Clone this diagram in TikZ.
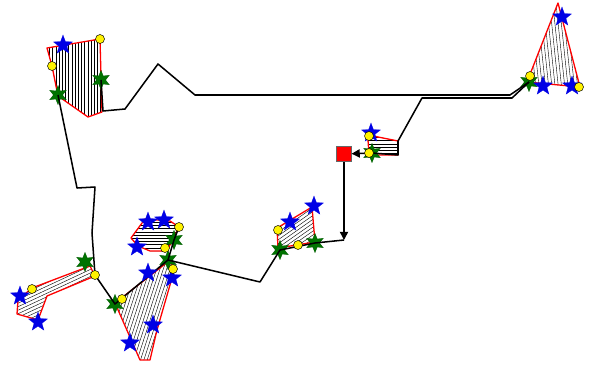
\documentclass[tikz,border=0pt]{standalone}
\usetikzlibrary{shapes.geometric,arrows.meta}

\tikzset{
  route/.style={draw=black, line width=1.3pt, line join=round},
  outline/.style={draw=red, line width=1.1pt, line join=round},
  hatch/.style={draw=black, line width=0.35pt},
  bstar/.style={star, star points=5, star point ratio=2.4, fill=blue!90!black, draw=blue!90!black, line width=0.2pt, minimum size=0.6cm, inner sep=0pt},
  gstar/.style={star, star points=6, star point ratio=2.1, fill=green!45!black, draw=green!35!black, line width=0.2pt, minimum size=0.58cm, inner sep=0pt},
  ydot/.style={circle, fill=yellow, draw=black, line width=0.4pt, minimum size=0.27cm, inner sep=0pt},
  startsq/.style={rectangle, fill=red, draw=black!60, line width=0.4pt, minimum size=0.44cm, inner sep=0pt},
  tip/.style={-{Triangle[length=7pt,width=7pt]}}
}

% hatched region with red border: #1 corner list, #2 centre, #3 hatch angle
\newcommand{\hatcharea}[3]{%
  \begin{scope}
    \clip #1 -- cycle;
    \begin{scope}[shift={#2}, rotate=#3]
      \foreach \k in {-32,...,32} \draw[hatch] (\k*3.2,-95) -- (\k*3.2,95);
    \end{scope}
  \end{scope}
  \draw[outline] #1 -- cycle;}

\begin{document}
\begin{tikzpicture}[x=0.03cm, y=-0.03cm]
\useasboundingbox (0,0) rectangle (589,366);

% hatched regions
\hatcharea{(47,48) -- (100,39) -- (102,112) -- (88,117) -- (58,96) -- (52,66)}{(75,80)}{0}
\hatcharea{(558,3) -- (580,87) -- (527,82)}{(555,55)}{6}
\hatcharea{(373,136) -- (398,141) -- (398,155) -- (369,155) -- (368,140)}{(385,147)}{90}
\hatcharea{(277,228) -- (312,207) -- (315,242) -- (278,248)}{(295,228)}{-55}
\hatcharea{(131,238) -- (145,219) -- (170,221) -- (179,227) -- (167,251) -- (150,251) -- (138,246)}{(155,235)}{90}
\hatcharea{(115,303) -- (169,261) -- (174,268) -- (172,278) -- (157,330) -- (150,360) -- (140,360)}{(150,310)}{-18}
\hatcharea{(18,300) -- (32,288) -- (90,266) -- (95,276) -- (47,296) -- (38,320) -- (17,314)}{(55,293)}{-65}

% bend points of the route
\coordinate (a1) at (103,111);
\coordinate (a2) at (125,109);
\coordinate (a3) at (158,64);
\coordinate (a4) at (195,95);
\coordinate (a5) at (510,95);
\coordinate (b1) at (512,98);
\coordinate (b2) at (422,98);
\coordinate (b3) at (398,141);
\coordinate (b4) at (398,155);
\coordinate (c1) at (344,240);
\coordinate (c2) at (260,282);
\coordinate (d1) at (92,233);
\coordinate (d2) at (95,187);
\coordinate (d3) at (77,188);

% green stars
\node[gstar] (g1a) at (58,95) {};
\node[gstar] (g1b) at (101,80) {};
\node[gstar] (g2) at (529,82) {};
\node[gstar] (g3) at (372,153) {};
\node[gstar] (g4a) at (280,250) {};
\node[gstar] (g4b) at (315,243) {};
\node[gstar] (g5a) at (174,240) {};
\node[gstar] (g6a) at (168,260) {};
\node[gstar] (g6b) at (115,304) {};
\node[gstar] (g7) at (85,262) {};

% start square
\node[startsq] (sq) at (344,154) {};

% route
\draw[route] (g1b.center) -- (a1) -- (a2) -- (a3) -- (a4) -- (a5) -- (g2.center);
\draw[route] (g2.center) -- (b1) -- (b2) -- (b3) -- (b4) -- (g3.center);
\draw[route, tip] (g3.center) -- (sq);
\draw[route, tip] (sq) -- (c1);
\draw[route] (c1) -- (g4b.center) -- (g4a.center) -- (c2) -- (g6a.center)
  -- (g6b.center) -- (95,275) -- (d1) -- (d2) -- (d3) -- (g1a.center);
\draw[route] (g6a.center) -- (g5a.center) -- (179,227);

% blue stars
\node[bstar] (b1s) at (63,45) {};
\node[bstar] (b2a) at (562,17) {};
\node[bstar] (b2b) at (543,86) {};
\node[bstar] (b2c) at (572,86) {};
\node[bstar] (b3s) at (371,133) {};
\node[bstar] (b4a) at (290,222) {};
\node[bstar] (b4b) at (314,206) {};
\node[bstar] (b5a) at (148,222) {};
\node[bstar] (b5b) at (164,220) {};
\node[bstar] (b5c) at (137,247) {};
\node[bstar] (b6a) at (148,273) {};
\node[bstar] (b6b) at (172,278) {};
\node[bstar] (b6c) at (153,325) {};
\node[bstar] (b6d) at (130,343) {};
\node[bstar] (b7a) at (20,296) {};
\node[bstar] (b7b) at (38,322) {};

% yellow dots
\node[ydot] (y1a) at (100,39) {};
\node[ydot] (y1b) at (52,66) {};
\node[ydot] (y2a) at (530,76) {};
\node[ydot] (y2b) at (579,87) {};
\node[ydot] (y3a) at (369,136) {};
\node[ydot] (y3b) at (369,153) {};
\node[ydot] (y4a) at (278,230) {};
\node[ydot] (y4b) at (298,245) {};
\node[ydot] (y5a) at (179,227) {};
\node[ydot] (y5b) at (165,248) {};
\node[ydot] (y6a) at (122,299) {};
\node[ydot] (y6b) at (173,269) {};
\node[ydot] (y7a) at (32,289) {};
\node[ydot] (y7b) at (95,275) {};
\end{tikzpicture}
\end{document}
